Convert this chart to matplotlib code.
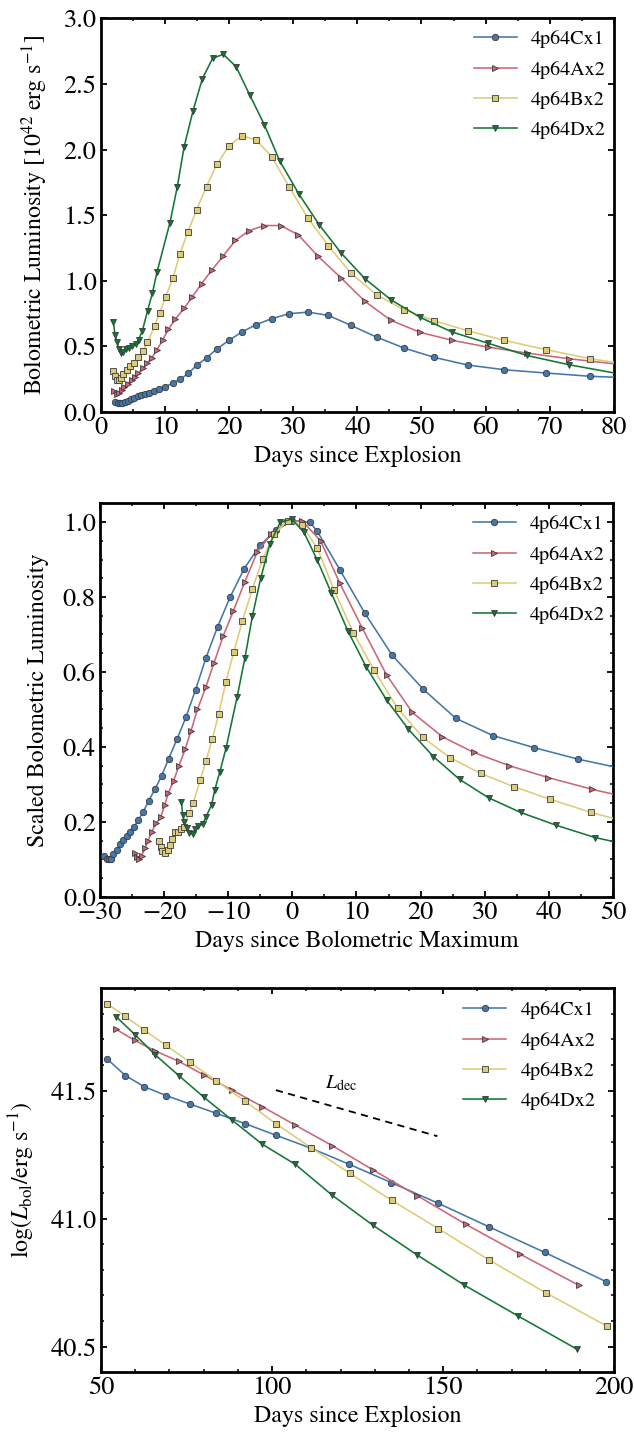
import matplotlib
matplotlib.use("Agg")
import matplotlib.pyplot as plt
from matplotlib.ticker import MultipleLocator

plt.rcParams['font.family'] = ['STIXGeneral', 'DejaVu Serif']
plt.rcParams['mathtext.fontset'] = 'stix'

# ---------------- data ----------------
models = ["4p64Cx1", "4p64Ax2", "4p64Bx2", "4p64Dx2"]
colors = ["#4477AA", "#CC6677", "#DDCC77", "#117733"]
markers = ["o", ">", "s", "v"]

# Panel 1: bolometric luminosity [1e42 erg/s] vs days since explosion
# (last entry of each list is where the curve leaves the axes; no marker there)
t1_C = [2.23, 2.64, 3.0, 3.37, 3.79, 4.2, 4.72, 5.24, 5.76, 6.28, 6.9, 7.58, 8.3, 9.14, 10.02, 11.2,
        12.36, 13.66, 14.95, 16.5, 18.1, 20.0, 22.0, 24.2, 26.65, 29.35, 32.3, 35.5, 39.0, 43.0,
        47.3, 52.0, 57.2, 62.9, 69.4, 76.3, 82.0]
L1_C = [0.079, 0.068, 0.067, 0.071, 0.079, 0.086, 0.099, 0.11, 0.12, 0.128, 0.137, 0.147, 0.162,
        0.178, 0.193, 0.218, 0.249, 0.294, 0.355, 0.412, 0.48, 0.546, 0.609, 0.665, 0.711, 0.749,
        0.761, 0.736, 0.66, 0.571, 0.487, 0.416, 0.358, 0.322, 0.297, 0.272, 0.261]
t1_A = [2.12, 2.49, 2.85, 3.27, 3.68, 4.2, 4.83, 5.35, 5.87, 6.54, 7.17, 7.94, 8.72, 9.66, 10.54,
        11.58, 12.98, 14.28, 15.74, 17.3, 19.1, 21.0, 23.1, 25.5, 28.05, 30.8, 33.8, 37.5, 41.2,
        45.25, 49.8, 54.8, 60.3, 66.4, 73.0, 82.0]
L1_A = [0.158, 0.14, 0.142, 0.165, 0.19, 0.216, 0.244, 0.269, 0.294, 0.332, 0.37, 0.41, 0.47,
        0.548, 0.629, 0.705, 0.789, 0.878, 0.979, 1.08, 1.19, 1.307, 1.381, 1.421, 1.421, 1.35,
        1.19, 1.02, 0.843, 0.698, 0.607, 0.546, 0.495, 0.449, 0.406, 0.356]
t1_B = [1.97, 2.23, 2.49, 2.85, 3.16, 3.53, 4.05, 4.57, 5.24, 5.87, 6.64, 7.27, 8.4, 9.2, 10.15,
        11.25, 12.35, 13.55, 14.95, 16.5, 18.1, 20.0, 22.0, 24.2, 26.65, 29.35, 32.3, 35.5, 39.0,
        43.0, 47.3, 52.0, 57.2, 62.9, 69.4, 76.3, 82.0]
L1_B = [0.316, 0.271, 0.246, 0.245, 0.256, 0.29, 0.322, 0.35, 0.375, 0.416, 0.467, 0.53, 0.653,
        0.757, 0.88, 1.02, 1.203, 1.368, 1.541, 1.718, 1.888, 2.028, 2.104, 2.074, 1.947, 1.718,
        1.477, 1.266, 1.058, 0.893, 0.779, 0.695, 0.619, 0.546, 0.475, 0.406, 0.365]
t1_D = [1.97, 2.23, 2.54, 2.85, 3.16, 3.53, 3.9, 4.4, 4.9, 5.45, 5.9, 6.5, 7.3, 8.05, 8.8, 10.8,
        11.95, 13.0, 14.4, 15.85, 17.45, 19.1, 21.1, 23.2, 25.5, 27.9, 30.9, 34.1, 37.5, 41.2,
        45.25, 49.8, 54.8, 60.3, 66.4, 73.0, 82.0]
L1_D = [0.687, 0.59, 0.535, 0.477, 0.452, 0.46, 0.477, 0.49, 0.5, 0.52, 0.55, 0.62, 0.77, 0.905,
        1.07, 1.444, 1.718, 2.02, 2.297, 2.54, 2.695, 2.726, 2.632, 2.419, 2.19, 1.914, 1.66, 1.424,
        1.21, 1.015, 0.855, 0.721, 0.609, 0.525, 0.431, 0.36, 0.28]

# Panel 2: scaled luminosity vs days since bolometric maximum
t2_C = [-29.3, -28.97, -28.65, -28.3, -27.9, -27.4, -26.9, -26.4, -25.85, -25.3, -24.7, -24.0,
        -23.25, -22.4, -21.4, -20.4, -19.3, -18.0, -16.6, -15.1, -13.5, -11.65, -9.67, -7.5, -5.0,
        -2.55, 0.0, 2.76, 3.9, 7.4, 11.3, 15.6, 20.4, 25.5, 31.3, 37.7, 44.6, 52.0]
S2_C = [0.109, 0.102, 0.1, 0.102, 0.114, 0.125, 0.14, 0.151, 0.162, 0.174, 0.187, 0.205, 0.227,
        0.256, 0.288, 0.322, 0.368, 0.42, 0.479, 0.552, 0.636, 0.721, 0.801, 0.876, 0.939, 0.978,
        1.004, 0.999, 0.975, 0.873, 0.757, 0.644, 0.554, 0.476, 0.43, 0.398, 0.367, 0.34]
t2_A = [-24.5, -24.3, -23.9, -23.5, -23.0, -22.5, -21.9, -21.2, -20.5, -19.9, -19.35, -18.5,
        -17.7, -16.7, -15.8, -14.8, -13.5, -12.2, -10.8, -9.2, -7.4, -5.5, -3.3, -0.9, 1.5, 4.4,
        7.4, 10.9, 14.7, 18.7, 23.4, 28.3, 33.8, 39.9, 46.7, 52.0]
S2_A = [0.118, 0.107, 0.102, 0.109, 0.129, 0.15, 0.174, 0.196, 0.214, 0.245, 0.276, 0.31, 0.349,
        0.394, 0.443, 0.5, 0.559, 0.625, 0.695, 0.763, 0.841, 0.919, 0.968, 1.0, 1.004, 0.95,
        0.837, 0.717, 0.592, 0.492, 0.427, 0.385, 0.35, 0.318, 0.287, 0.266]
t2_B = [-20.8, -20.5, -20.3, -19.9, -19.45, -19.1, -18.7, -18.3, -17.8, -17.4, -16.85, -16.1,
        -15.45, -14.35, -13.5, -12.5, -11.5, -10.35, -9.15, -7.8, -6.24, -4.63, -2.8, -0.73, 1.46,
        3.9, 6.5, 9.5, 12.7, 16.4, 20.3, 24.6, 29.4, 34.5, 40.2, 46.6, 52.0]
S2_B = [0.15, 0.134, 0.123, 0.118, 0.125, 0.138, 0.154, 0.172, 0.174, 0.18, 0.187, 0.223, 0.251,
        0.312, 0.361, 0.42, 0.487, 0.574, 0.652, 0.735, 0.821, 0.901, 0.968, 1.004, 0.993, 0.93,
        0.819, 0.705, 0.606, 0.503, 0.426, 0.371, 0.329, 0.294, 0.26, 0.225, 0.2]
t2_D = [-17.3, -17.1, -16.85, -16.5, -16.1, -15.55, -15.2, -14.7, -14.0, -13.5, -12.6, -12.1,
        -11.3, -10.35, -8.6, -7.4, -6.24, -4.94, -3.5, -1.9, -0.1, 1.8, 3.9, 6.1, 8.7, 11.5, 14.7,
        18.1, 22.0, 26.1, 30.6, 35.6, 41.1, 47.2, 52.0]
S2_D = [0.254, 0.218, 0.2, 0.184, 0.171, 0.167, 0.18, 0.189, 0.193, 0.212, 0.245, 0.285, 0.334,
        0.396, 0.534, 0.637, 0.748, 0.85, 0.942, 0.999, 1.008, 0.973, 0.898, 0.81, 0.708, 0.614,
        0.525, 0.447, 0.374, 0.313, 0.264, 0.225, 0.191, 0.158, 0.14]

# Panel 3: log L_bol vs days since explosion (late times)
t3_C = [51.7, 57.1, 62.7, 69.0, 75.9, 83.6, 92.1, 101.1, 111.4, 122.6, 134.8, 148.4, 163.4, 179.7, 197.6]
lg3_C = [41.625, 41.559, 41.515, 41.481, 41.448, 41.412, 41.371, 41.326, 41.275, 41.212, 41.141,
         41.061, 40.968, 40.868, 40.754]
t3_A = [54.5, 59.9, 65.9, 72.8, 80.1, 88.2, 97.1, 106.8, 117.6, 129.4, 142.4, 156.6, 172.4, 189.75]
lg3_A = [41.739, 41.696, 41.655, 41.614, 41.561, 41.503, 41.438, 41.365, 41.285, 41.191, 41.09,
         40.978, 40.862, 40.739]
t3_B = [51.85, 57.1, 62.7, 69.0, 75.9, 83.6, 92.1, 101.1, 111.4, 122.7, 134.9, 148.6, 163.5, 179.9, 197.9]
lg3_B = [41.839, 41.79, 41.736, 41.677, 41.612, 41.539, 41.459, 41.371, 41.277, 41.177, 41.072,
         40.961, 40.838, 40.711, 40.58]
t3_D = [54.5, 59.9, 65.9, 72.8, 80.1, 88.2, 97.1, 106.8, 117.6, 129.4, 142.3, 156.1, 172.0, 189.0]
lg3_D = [41.788, 41.719, 41.639, 41.558, 41.474, 41.386, 41.291, 41.212, 41.091, 40.975, 40.859,
         40.741, 40.619, 40.491]

# reference decay line (L_dec)
tdec = [101.1, 148.3]
lgdec = [41.502, 41.322]

# ---------------- figure ----------------
fig = plt.figure(figsize=(6.34, 14.32), dpi=100)
ax1 = fig.add_axes([0.1588, 0.7123, 0.8096, 0.2749])
ax2 = fig.add_axes([0.1577, 0.3738, 0.8091, 0.2747])
ax3 = fig.add_axes([0.1593, 0.0417, 0.8096, 0.2682])

TICK_FS = 19
LAB_FS = 17.2
LEG_FS = 14.5
msizes = [4.6, 4.4, 4.8, 4.4]


def style(ax):
    for s in ax.spines.values():
        s.set_linewidth(2.0)
    ax.tick_params(which='both', direction='in', top=True, right=True, labelsize=TICK_FS, pad=3)
    ax.tick_params(which='major', length=4.5, width=1.3)
    ax.tick_params(which='minor', length=2.5, width=1.1)


p1 = [(t1_C, L1_C), (t1_A, L1_A), (t1_B, L1_B), (t1_D, L1_D)]
p2 = [(t2_C, S2_C), (t2_A, S2_A), (t2_B, S2_B), (t2_D, S2_D)]
p3 = [(t3_C, lg3_C), (t3_A, lg3_A), (t3_B, lg3_B), (t3_D, lg3_D)]

for ax, series, trim in [(ax1, p1, True), (ax2, p2, True), (ax3, p3, False)]:
    for (x, y), lab, c, m, ms in zip(series, models, colors, markers, msizes):
        n = len(x)
        me = slice(0, n - 1) if trim else None
        ax.plot(x, y, color=c, lw=1.15, marker=m, ms=ms, mfc=c, mec='#3a3a3a', mew=0.6,
                markevery=me, label=lab, zorder=3)
    style(ax)

ax1.set_xlim(0, 80)
ax1.set_ylim(0, 3.0)
ax1.xaxis.set_major_locator(MultipleLocator(10))
ax1.xaxis.set_minor_locator(MultipleLocator(5))
ax1.yaxis.set_major_locator(MultipleLocator(0.5))
ax1.set_xlabel("Days since Explosion", fontsize=LAB_FS)
ax1.set_ylabel(r"Bolometric Luminosity $[10^{42}\ \mathrm{erg\ s^{-1}}]$", fontsize=LAB_FS)
ax1.yaxis.set_label_coords(-0.099, 0.5)
ax1.xaxis.set_label_coords(0.5, -0.085)

ax2.set_xlim(-30, 50)
ax2.set_ylim(0, 1.05)
ax2.xaxis.set_major_locator(MultipleLocator(10))
ax2.xaxis.set_minor_locator(MultipleLocator(5))
ax2.yaxis.set_major_locator(MultipleLocator(0.2))
ax2.yaxis.set_minor_locator(MultipleLocator(0.05))
ax2.set_xlabel("Days since Bolometric Maximum", fontsize=LAB_FS)
ax2.set_ylabel("Scaled Bolometric Luminosity", fontsize=LAB_FS)
ax2.yaxis.set_label_coords(-0.099, 0.5)
ax2.xaxis.set_label_coords(0.5, -0.085)

ax3.set_xlim(50, 200)
ax3.set_ylim(40.4, 41.9)
ax3.xaxis.set_major_locator(MultipleLocator(50))
ax3.xaxis.set_minor_locator(MultipleLocator(10))
ax3.yaxis.set_major_locator(MultipleLocator(0.5))
ax3.yaxis.set_minor_locator(MultipleLocator(0.1))
ax3.set_xlabel("Days since Explosion", fontsize=LAB_FS)
ax3.set_ylabel(r"$\log(L_{\rm bol}/\mathrm{erg\ s^{-1}})$", fontsize=LAB_FS)
ax3.yaxis.set_label_coords(-0.125, 0.5)
ax3.xaxis.set_label_coords(0.5, -0.087)
ax3.plot(tdec, lgdec, color='black', lw=1.3, ls=(0, (4, 3)), zorder=2)
ax3.text(120.3, 41.53, r"$L_{\rm dec}$", fontsize=14.5, ha='center', va='center')

leg_kw = dict(frameon=False, fontsize=LEG_FS, numpoints=1, handlelength=2.15,
              handletextpad=0.7, labelspacing=0.6, loc='upper right', borderaxespad=0.0)
ax1.legend(bbox_to_anchor=(1.0, 0.99), **leg_kw)
ax2.legend(bbox_to_anchor=(1.0, 0.99), **leg_kw)
ax3.legend(bbox_to_anchor=(0.979, 0.987), **leg_kw)

fig.savefig("out.png", dpi=100)
